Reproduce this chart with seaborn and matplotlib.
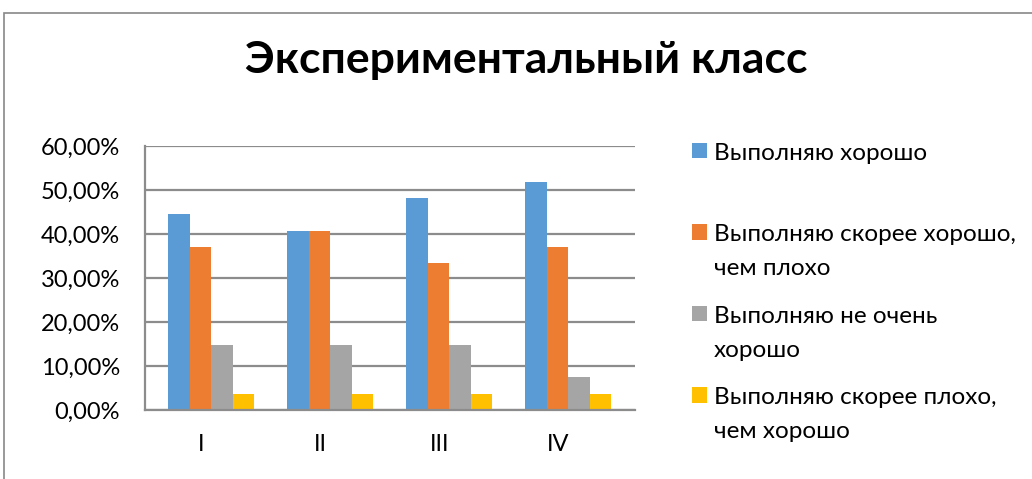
import matplotlib
matplotlib.use("Agg")
import matplotlib.pyplot as plt
import matplotlib.ticker as mticker
import matplotlib.transforms as mtransforms
from matplotlib.patches import Rectangle
import seaborn as sns
import pandas as pd

categories = ["I", "II", "III", "IV"]
series_names = [
    "Выполняю хорошо",
    "Выполняю скорее хорошо,\nчем плохо",
    "Выполняю не очень\nхорошо",
    "Выполняю скорее плохо,\nчем хорошо",
]
good = [0.4444, 0.4074, 0.4815, 0.5185]
rather_good = [0.3704, 0.4074, 0.3333, 0.3704]
not_very_good = [0.1481, 0.1481, 0.1481, 0.0741]
rather_bad = [0.0370, 0.0370, 0.0370, 0.0370]
colors = ["#5B9BD5", "#ED7D31", "#A5A5A5", "#FFC000"]

rows = []
for name, vals in zip(series_names, [good, rather_good, not_very_good, rather_bad]):
    for c, v in zip(categories, vals):
        rows.append({"cat": c, "series": name, "value": v})
df = pd.DataFrame(rows)

sns.set_theme(style="white")
plt.rcParams["font.family"] = ["Lato", "DejaVu Sans"]
plt.rcParams["text.color"] = "black"

fig = plt.figure(figsize=(10.32, 4.79), dpi=100)
ax = fig.add_axes([145 / 1032, (479 - 410) / 479, 490 / 1032, 264 / 479])

sns.barplot(data=df, x="cat", y="value", hue="series", order=categories,
            hue_order=series_names, palette=colors, width=0.72, ax=ax,
            saturation=1, edgecolor="none", legend=True)

ax.set_xlim(-0.555, 3.56)
ax.set_ylim(0, 0.6)
ax.yaxis.set_major_locator(mticker.MultipleLocator(0.1))
ax.yaxis.set_major_formatter(mticker.FuncFormatter(lambda v, p: f"{v*100:.2f}%".replace(".", ",")))
ax.grid(axis="y", color="#8C8C8C", linewidth=1.6)
ax.set_axisbelow(True)
for s in ["top", "right"]:
    ax.spines[s].set_visible(False)
for s in ["left", "bottom"]:
    ax.spines[s].set_color("#8C8C8C")
    ax.spines[s].set_linewidth(1.6)
ax.set_xlabel("")
ax.set_ylabel("")
ax.tick_params(axis="y", length=0, pad=18, labelsize=17, labelcolor="black")
ax.tick_params(axis="x", length=0, pad=17, labelsize=17, labelcolor="black")
offset = mtransforms.ScaledTranslation(-10 / 100, 0, fig.dpi_scale_trans)
for lbl in ax.get_xticklabels():
    lbl.set_transform(lbl.get_transform() + offset)

handles, labels = ax.get_legend_handles_labels()
ax.legend_.remove()
labels = [lab if "\n" in lab else lab + "\n " for lab in labels]
leg = fig.legend(handles, labels, loc="upper left", bbox_to_anchor=(692 / 1032, 1 - 143 / 479),
                 frameon=False, fontsize=17.5, handlelength=0.6, handleheight=0.6,
                 handletextpad=0.3, labelspacing=1.1, borderpad=0, borderaxespad=0)
for t in leg.get_texts():
    t.set_linespacing(1.75)
    t.set_color("black")
for col in leg._legend_handle_box.get_children():
    for item in col.get_children():
        item.align = "top"

fig.suptitle("Экспериментальный класс", x=0.51, y=1 - 60 / 479, va="center",
             fontsize=32, fontweight="bold", color="black")

fig.patches.append(Rectangle((4 / 1032, -0.2), 1.2, 1 - 13 / 479 + 0.2, transform=fig.transFigure,
                             fill=False, edgecolor="#888888", linewidth=1.2))

fig.savefig("out.png", dpi=100)
